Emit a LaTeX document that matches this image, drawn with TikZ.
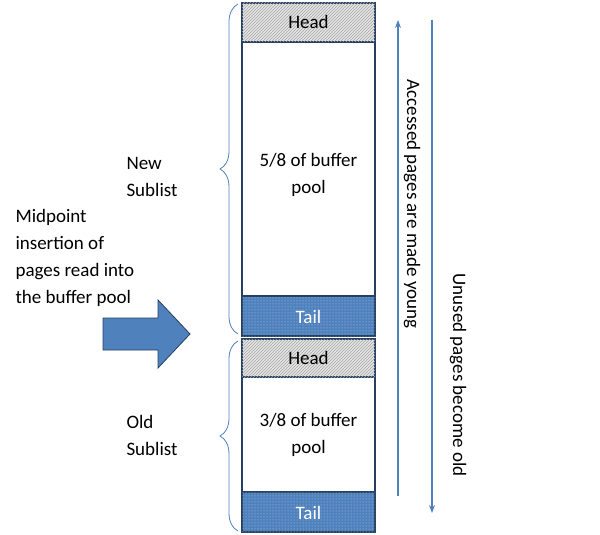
\documentclass[tikz,border=0pt]{standalone}
\usepackage{fontspec}
\setmainfont{Carlito}
\usetikzlibrary{patterns,decorations.pathreplacing,arrows.meta}
\definecolor{bl}{RGB}{79,129,189}
\definecolor{dbl}{RGB}{37,64,97}
\begin{document}
\begin{tikzpicture}[x=1pt,y=-1pt,
  txt/.style={font=\fontsize{19}{27}\selectfont,align=center},
  head/.style={draw=dbl,line width=1.2pt,fill=gray!20,postaction={pattern=north east lines,pattern color=gray!70}},
  tail/.style={draw=dbl,line width=1.2pt,fill=bl,postaction={pattern=dots,pattern color=white!60!bl}},
  body/.style={draw=dbl,line width=1.2pt,fill=white},
  brace/.style={draw=bl,line width=0.8pt,decorate,decoration={brace,amplitude=18pt}},
  arr/.style={draw=bl,line width=1.2pt,-{Stealth[length=8pt,width=6pt]}}]
\useasboundingbox (0,0) rectangle (600,535);
\draw[body] (242,42) rectangle (375,296);
\draw[body] (242,377) rectangle (375,492);
\draw[head] (242,3) rectangle (375,42);
\draw[tail] (242,296) rectangle (375,336);
\draw[head] (242,339) rectangle (375,377);
\draw[tail] (242,492) rectangle (375,532);
\node[txt] (h1) at (308.5,22) {Head};
\node[txt,text=white] (t1) at (308.5,317) {Tail};
\node[txt] (h2) at (308.5,358) {Head};
\node[txt,text=white] (t2) at (308.5,513) {Tail};
\node[txt] (n1) at (308.5,175) {5/8 of buffer\\pool};
\node[txt] (n2) at (308.5,435) {3/8 of buffer\\pool};
\coordinate (b1a) at (238,334); \coordinate (b1b) at (238,4);
\coordinate (b2a) at (238,531); \coordinate (b2b) at (238,341);
\draw[brace] (b1a) -- (b1b);
\draw[brace] (b2a) -- (b2b);
\node[txt,align=left] (ns) at (152,177) {New\\Sublist};
\node[txt,align=left] (os) at (152,435) {Old\\Sublist};
\node[txt,align=left,anchor=west] (mp) at (12,258) {Midpoint\\insertion of\\pages read into\\the buffer pool};
\draw[draw=dbl,fill=bl,line width=0.8pt] (103,318) -- (158,318) -- (158,300) -- (190,334) -- (158,368) -- (158,350) -- (103,350) -- cycle;
\coordinate (u1) at (398,496); \coordinate (u2) at (398,20);
\coordinate (d1) at (432,20); \coordinate (d2) at (432,513);
\draw[arr] (u1) -- (u2);
\draw[arr] (d1) -- (d2);
\node[txt,rotate=-90] (ay) at (412,204) {Accessed pages are made young};
\node[txt,rotate=-90] (uo) at (458,375) {Unused pages become old};
\end{tikzpicture}
\end{document}
